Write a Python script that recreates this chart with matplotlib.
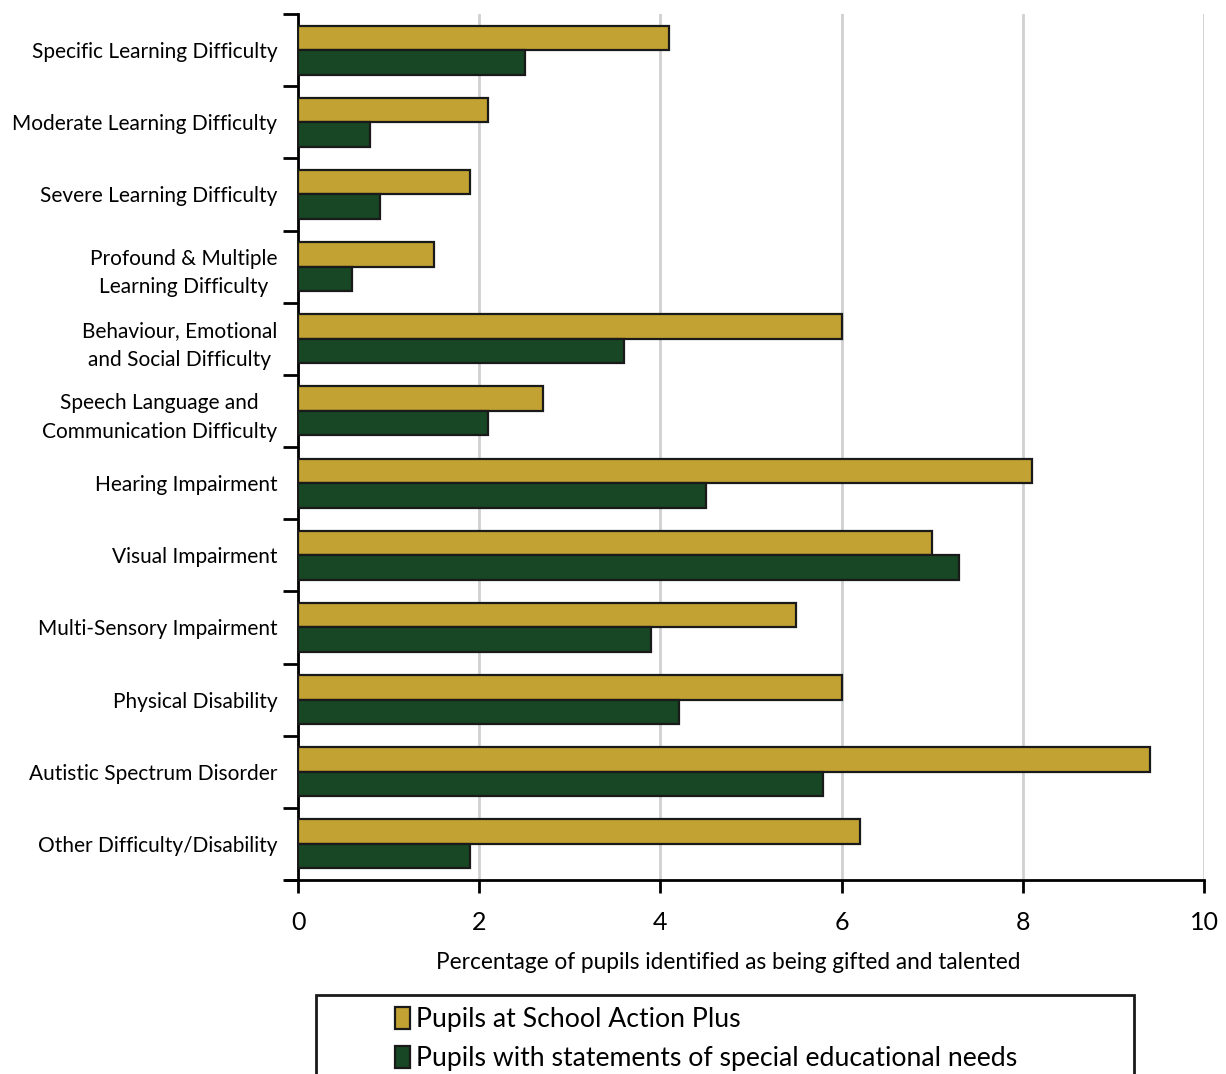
import matplotlib.pyplot as plt
import matplotlib.patches as mpatches
import numpy as np

plt.rcParams['font.family'] = ['Lato', 'DejaVu Sans']

# DATA
categories = [
    'Specific Learning Difficulty',
    'Moderate Learning Difficulty',
    'Severe Learning Difficulty',
    'Profound & Multiple\nLearning Difficulty',
    'Behaviour, Emotional\nand Social Difficulty',
    'Speech Language and\nCommunication Difficulty',
    'Hearing Impairment',
    'Visual Impairment',
    'Multi-Sensory Impairment',
    'Physical Disability',
    'Autistic Spectrum Disorder',
    'Other Difficulty/Disability',
]
action_plus = [4.1, 2.1, 1.9, 1.5, 6.0, 2.7, 8.1, 7.0, 5.5, 6.0, 9.4, 6.2]
statements = [2.5, 0.8, 0.9, 0.6, 3.6, 2.1, 4.5, 7.3, 3.9, 4.2, 5.8, 1.9]
series_labels = ['Pupils at School Action Plus',
                 'Pupils with statements of special educational needs']
x_ticks = [0, 2, 4, 6, 8, 10]

GOLD = '#c2a232'
GREEN = '#174724'

fig = plt.figure(figsize=(12.26, 10.74), dpi=100)
ax = fig.add_axes([298 / 1226, 1 - 880 / 1074, 906 / 1226, 866 / 1074])

y = np.arange(len(categories))
h = 0.34
ax.barh(y - h / 2, action_plus, height=h, color=GOLD, edgecolor='#1a1a1a',
        linewidth=1.6, zorder=3, label=series_labels[0])
ax.barh(y + h / 2, statements, height=h, color=GREEN, edgecolor='#1a1a1a',
        linewidth=1.6, zorder=3, label=series_labels[1])

ax.set_ylim(len(categories) - 0.5, -0.5)
ax.set_xlim(0, 10)

# ticks at the band boundaries, labels in the middle
ax.set_yticks(np.arange(-0.5, len(categories)), labels=[])
ax.set_yticks(y, labels=categories, minor=True)
ax.tick_params(axis='y', which='major', length=11, width=2, direction='out')
ax.tick_params(axis='y', which='minor', length=0, pad=15, labelsize=15)
for lbl in ax.get_yticklabels(minor=True):
    lbl.set_multialignment('center')
    lbl.set_linespacing(1.55)

ax.set_xticks(x_ticks)
ax.tick_params(axis='x', length=9, width=2, labelsize=18, pad=13)
ax.set_xlabel('Percentage of pupils identified as being gifted and talented',
              fontsize=16.3)
ax.xaxis.set_label_coords(0.4746, -0.083)

ax.grid(axis='x', color='#d0d0d0', linewidth=2, zorder=0)
ax.set_axisbelow(True)
for s in ['top', 'right']:
    ax.spines[s].set_visible(False)
ax.spines['left'].set_linewidth(2)
ax.spines['bottom'].set_linewidth(2)
ax.spines['bottom'].set_bounds(-0.13, 10)

# legend box runs off the bottom of the page
fig.patches.append(mpatches.Rectangle((316 / 1226, -0.02), 818 / 1226, 0.02 + 79 / 1074,
                                      transform=fig.transFigure, fill=False,
                                      edgecolor='#1a1a1a', linewidth=2))
fig.legend(loc='upper left', bbox_to_anchor=(395 / 1226, 1 - 1007 / 1074),
           frameon=False, fontsize=19.2, handlelength=0.55, handleheight=0.9,
           handletextpad=0.25, labelspacing=0.5, borderpad=0, borderaxespad=0)

plt.savefig('out.png', dpi=100)
